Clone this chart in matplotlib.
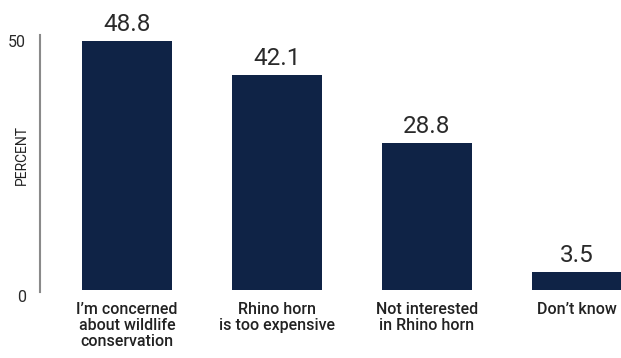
import matplotlib
matplotlib.use("Agg")
import matplotlib.pyplot as plt

# data
categories = ["I\u2019m concerned\nabout wildlife\nconservation",
              "Rhino horn\nis too expensive",
              "Not interested\nin Rhino horn",
              "Don\u2019t know"]
values = [48.8, 42.1, 28.8, 3.5]
value_labels = ["48.8", "42.1", "28.8", "3.5"]
yticks = [0, 50]

W, H = 621, 358
fig = plt.figure(figsize=(W / 100, H / 100), dpi=100)
ax = fig.add_axes([40 / W, (H - 292) / H, 1 - 40 / W, (292 - 35) / H])

bar_color = "#0f2346"
x = range(len(values))
ax.bar(x, values, width=0.6, color=bar_color)

for xi, v, lab in zip(x, values, value_labels):
    ax.annotate(lab, (xi, v), xytext=(0, 3.5), textcoords="offset points",
                ha="center", va="bottom", fontsize=17.5, family="Roboto",
                color="#2a2a2a")

ax.set_xlim(-0.58, 3 + 44 / 150)
ax.set_ylim(-0.4, 50)

for s in ["top", "right", "bottom"]:
    ax.spines[s].set_visible(False)
ax.spines["left"].set_color("#8a8a8a")
ax.spines["left"].set_linewidth(1.5)

ax.set_yticks(yticks)
ax.set_yticklabels([str(t) for t in yticks], fontsize=11.5, family="Roboto",
                   color="#2a2a2a")
ax.tick_params(axis="y", length=0, pad=10)
for t in ax.get_yticklabels():
    t.set_va("top")

ax.set_xticks(list(x))
ax.set_xticklabels(categories, fontsize=11.5, family="Roboto",
                   fontweight="medium", color="#222222", linespacing=1.1)
ax.tick_params(axis="x", length=0, pad=7)

fig.text(22 / W, 1 - 155 / H, "PERCENT", rotation=90, ha="center",
         va="center", fontsize=10, family="Roboto", color="#222222")

fig.savefig("out.png", dpi=100)
